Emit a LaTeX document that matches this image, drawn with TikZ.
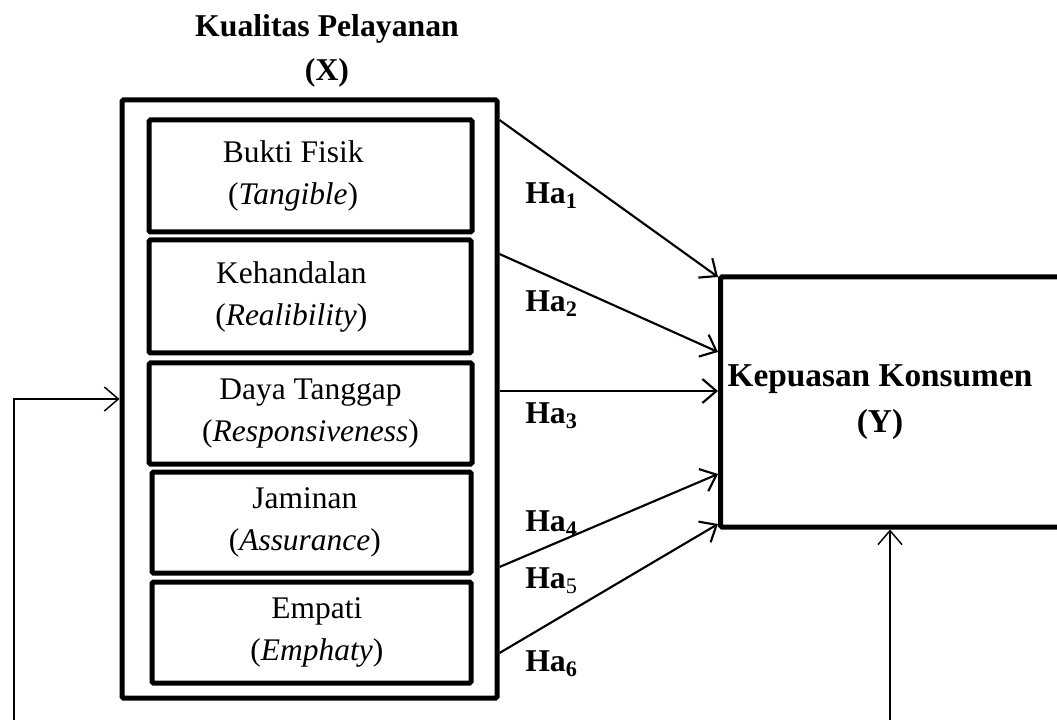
\documentclass[tikz,border=0pt]{standalone}
\usepackage{fontspec}
\setmainfont{Liberation Serif}
\usetikzlibrary{arrows.meta}

\tikzset{
  boxline/.style={draw, line width=3.75pt, rounded corners=1pt, inner sep=0pt},
  txt/.style={align=center, font=\fontsize{23.6}{31.5}\selectfont},
  btxt/.style={align=center, font=\fontsize{23.8}{33}\selectfont\bfseries},
  ha/.style={anchor=west, inner sep=0pt, font=\fontsize{23.8}{28}\selectfont\bfseries},
  arr/.style={line width=1.6pt, -{Straight Barb[length=10.5pt,width=18pt,line width=1.6pt]}},
  fb/.style={line width=1.1pt, -{Straight Barb[length=10.5pt,width=18pt,line width=1.1pt]}}
}

\begin{document}
\begin{tikzpicture}[x=0.75pt, y=-0.75pt]
  \useasboundingbox (0,0) rectangle (1057,720);
  % variabel X
  \node[btxt] (titleX) at (327,51) {Kualitas Pelayanan\\(X)};
  \node[boxline, minimum width=281.25pt, minimum height=448.5pt] (X) at (309.5,399) {};
  \node[boxline, minimum width=242.25pt, minimum height=84pt] (b1) at (310.5,176) {};
  \node[boxline, minimum width=241.5pt, minimum height=84.75pt] (b2) at (310,296.5) {};
  \node[boxline, minimum width=242.25pt, minimum height=75.75pt] (b3) at (310.5,413.5) {};
  \node[boxline, minimum width=239.25pt, minimum height=75.75pt] (b4) at (311.5,522.5) {};
  \node[boxline, minimum width=239.25pt, minimum height=75.75pt] (b5) at (311.5,632.5) {};
  \node[txt] (t1) at ([xshift=-13pt]b1) {Bukti Fisik\\(\textit{Tangible})};
  \node[txt] (t2) at ([xshift=-14pt]b2) {Kehandalan\\(\textit{Realibility})};
  \node[txt] (t3) at (b3) {Daya Tanggap\\(\textit{Responsiveness})};
  \node[txt] (t4) at ([xshift=-5pt]b4) {Jaminan\\(\textit{Assurance})};
  \node[txt] (t5) at ([xshift=4pt]b5) {Empati\\(\textit{Emphaty})};
  % variabel Y
  \node[boxline, anchor=west, minimum width=294pt, minimum height=187.5pt] (Y) at (718,402) {};
  \node[btxt, font=\fontsize{25}{34}\selectfont\bfseries] (titleY) at (880,402) {Kepuasan Konsumen\\(Y)};
  % hipotesis
  \draw[arr] (X.east |- 0,120) -- (Y.west |- 0,277);
  \draw[arr] (X.east |- 0,254) -- (Y.west |- 0,352);
  \draw[arr] (X.east |- 0,391) -- (Y.west |- 0,391);
  \draw[arr] (X.east |- 0,567) -- (Y.west |- 0,474);
  \draw[arr] (X.east |- 0,653) -- (Y.west |- 0,524);
  \node[ha] (ha1) at (525,196) {Ha\textsubscript{1}};
  \node[ha] (ha2) at (525,304) {Ha\textsubscript{2}};
  \node[ha] (ha3) at (525,416) {Ha\textsubscript{3}};
  \node[ha] (ha4) at (525,524) {Ha\textsubscript{4}};
  \node[ha] (ha5) at (525,581) {Ha\textsubscript{\mdseries 5}};
  \node[ha] (ha6) at (525,664) {Ha\textsubscript{6}};
  % garis bawah
  \coordinate (fbL) at (14,730);
  \coordinate (fbR) at (890,730);
  \draw[fb] (fbL) |- (X.west);
  \draw[fb] (fbR) -- (fbR |- Y.south);
\end{tikzpicture}
\end{document}
